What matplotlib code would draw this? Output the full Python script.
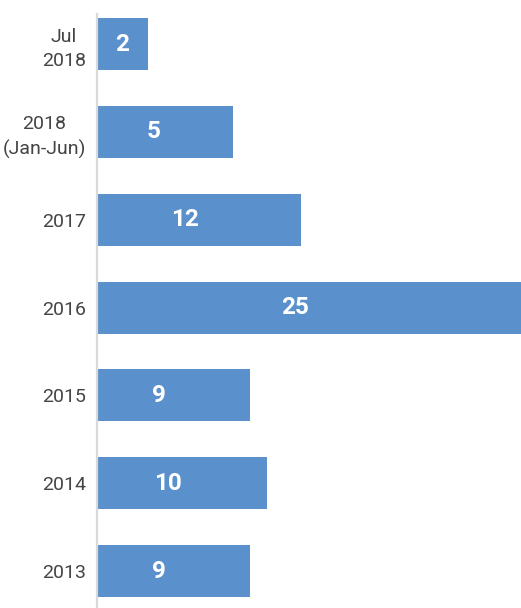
import matplotlib.pyplot as plt

categories = ['Jul\n2018', '2018\n(Jan-Jun)', '2017', '2016', '2015', '2014', '2013']
bar_lengths = [3, 8, 12, 25, 9, 10, 9]
shown_values = [2, 5, 12, 25, 9, 10, 9]

bar_color = '#5a90cb'

fig = plt.figure(figsize=(5.21, 6.08), dpi=100)
ax = fig.add_axes([97 / 521, 0, 1 - 97 / 521, 594 / 608])

pos = list(range(len(categories)))
ax.barh(pos, bar_lengths, height=0.592, color=bar_color)

# value labels sit a bit left of the bar middle
for p, length, v in zip(pos, bar_lengths, shown_values):
    shift = -14 * min(1, max(0, (length - 4) / 5))
    ax.annotate(str(v), (length / 2, p), xytext=(shift * 0.72, 0),
                textcoords='offset points', ha='center', va='center',
                color='white', fontsize=17.5, fontweight='bold', family='Roboto')

ax.set_xlim(0, 25)
ax.set_ylim(6.421, -0.342)
ax.set_yticks(pos)
labels = ax.set_yticklabels(categories, family='Roboto', fontsize=14,
                            color='#444444', linespacing=1.45)
for t in labels:
    t.set_multialignment('center')
ax.tick_params(axis='y', length=0, pad=8)
ax.set_xticks([])
for s in ['top', 'right', 'bottom']:
    ax.spines[s].set_visible(False)
ax.spines['left'].set_color('#d9d9d9')
ax.spines['left'].set_linewidth(1.6)

fig.savefig('out.png', dpi=100)
